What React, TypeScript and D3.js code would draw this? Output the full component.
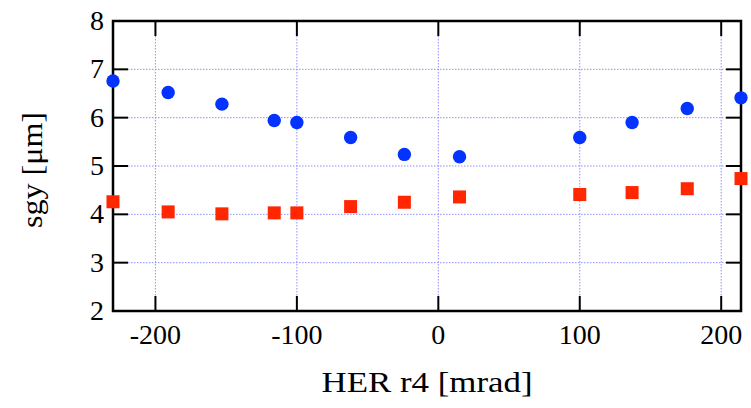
import React from "react";
import * as d3 from "d3";

const xValues = [-230, -191, -153, -116, -100, -62, -24, 15, 100, 137, 176, 214];
const blueValues = [6.76, 6.52, 6.28, 5.94, 5.9, 5.59, 5.24, 5.19, 5.59, 5.9, 6.19, 6.41];
const redValues = [4.26, 4.05, 4.01, 4.03, 4.03, 4.16, 4.25, 4.36, 4.41, 4.45, 4.53, 4.74];
const xTicks = [-200, -100, 0, 100, 200];
const yTicks = [2, 3, 4, 5, 6, 7, 8];
const xTitle = "HER r4 [mrad]";
const yTitle = "sgy [\u03bcm]";

const W = 751, H = 408;
const L = 113, R = 741, T = 21, B = 311;
const FONT = "Liberation Serif";

export default function App() {
  const x = d3.scaleLinear().domain([-230, 214]).range([L, R]);
  const y = d3.scaleLinear().domain([2, 8]).range([B, T]);
  const tl = 15;
  const grid = "#8f8fff";
  return (
    <svg width={W} height={H} style={{ position: "absolute", left: 0, top: 0, background: "#fff", fontFamily: "'Liberation Serif', Tinos, 'Times New Roman', Times, serif" }}>
      {/* grid */}
      {xTicks.map((t) => (
        <line key={"gx" + t} x1={x(t)} x2={x(t)} y1={T + tl} y2={B - tl} stroke={grid} strokeWidth={1} strokeDasharray="1.5,1.5" />
      ))}
      {yTicks.filter((t) => t > 2 && t < 8).map((t) => (
        <line key={"gy" + t} x1={L + tl} x2={R - tl} y1={y(t)} y2={y(t)} stroke={grid} strokeWidth={1} strokeDasharray="1.5,1.5" />
      ))}
      {/* ticks */}
      {xTicks.map((t) => (
        <g key={"tx" + t}>
          <line x1={x(t)} x2={x(t)} y1={B} y2={B - tl} stroke="#000" strokeWidth={2} />
          <line x1={x(t)} x2={x(t)} y1={T} y2={T + tl} stroke="#000" strokeWidth={2} />
          <text x={x(t)} y={344} textAnchor="middle" fontFamily={FONT} fontSize={28} fill="#000">
            {t}
          </text>
        </g>
      ))}
      {yTicks.map((t) => (
        <g key={"ty" + t}>
          <line x1={L} x2={L + tl} y1={y(t)} y2={y(t)} stroke="#000" strokeWidth={2} />
          <line x1={R} x2={R - tl} y1={y(t)} y2={y(t)} stroke="#000" strokeWidth={2} />
          <text x={104} y={y(t) + 9} textAnchor="end" fontFamily={FONT} fontSize={28} fill="#000">
            {t}
          </text>
        </g>
      ))}
      {/* frame */}
      <rect x={L} y={T} width={R - L} height={B - T} fill="none" stroke="#000" strokeWidth={2.5} />
      {/* data */}
      {xValues.map((v, i) => (
        <rect key={"r" + i} x={x(v) - 6.5} y={y(redValues[i]) - 6.5} width={13} height={13} fill="#ff2600" />
      ))}
      {xValues.map((v, i) => (
        <circle key={"b" + i} cx={x(v)} cy={y(blueValues[i])} r={6.7} fill="#0433ff" />
      ))}
      {/* titles */}
      <text x={(L + R) / 2} y={392} textAnchor="middle" fontFamily={FONT} fontSize={29} fill="#000" textLength={211} lengthAdjust="spacingAndGlyphs">
        {xTitle}
      </text>
      <text transform={`translate(42, ${170}) rotate(-90)`} textAnchor="middle" fontFamily={FONT} fontSize={30} fill="#000" textLength={116} lengthAdjust="spacingAndGlyphs">
        {yTitle}
      </text>
    </svg>
  );
}
